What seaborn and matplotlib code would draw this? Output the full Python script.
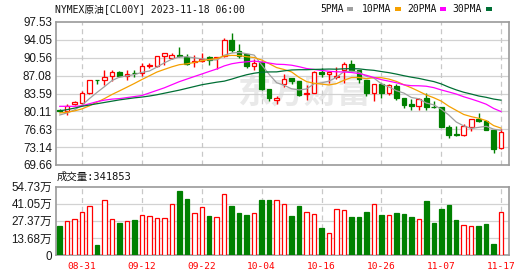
import numpy as np
import matplotlib
matplotlib.use('Agg')
import matplotlib.pyplot as plt
import seaborn as sns
from matplotlib.patches import Rectangle

# ---------------- data ----------------
dates = ['08-28', '08-29', '08-30', '08-31', '09-01', '09-04', '09-05', '09-06', '09-07', '09-08',
         '09-11', '09-12', '09-13', '09-14', '09-15', '09-18', '09-19', '09-20', '09-21', '09-22',
         '09-25', '09-26', '09-27', '09-28', '09-29', '10-02', '10-03', '10-04', '10-05', '10-06',
         '10-09', '10-10', '10-11', '10-12', '10-13', '10-16', '10-17', '10-18', '10-19', '10-20',
         '10-23', '10-24', '10-25', '10-26', '10-27', '10-30', '10-31', '11-01', '11-02', '11-03',
         '11-06', '11-07', '11-08', '11-09', '11-10', '11-13', '11-14', '11-15', '11-16', '11-17']

opens = [80.3, 80.12, 81.6, 81.75, 83.75, 86.2, 86.3, 86.95, 87.7, 87.0,
         87.6, 87.6, 89.0, 89.0, 91.0, 90.6, 91.1, 90.8, 89.7, 89.9,
         90.8, 90.5, 90.85, 94.0, 91.9, 91.2, 88.9, 89.7, 84.4, 82.4,
         85.45, 86.6, 86.1, 83.5, 83.75, 87.8, 87.3, 86.8, 88.1, 89.3,
         88.2, 86.2, 83.75, 85.4, 83.7, 85.0, 82.7, 81.55, 81.1, 82.7,
         81.05, 80.9, 77.0, 75.65, 75.6, 77.1, 78.6, 78.15, 76.5, 73.0]
highs = [80.5, 81.6, 82.1, 84.0, 86.2, 86.2, 88.2, 88.2, 87.9, 88.1,
         88.2, 89.5, 89.5, 90.9, 91.4, 91.4, 92.6, 91.2, 91.1, 91.5,
         90.9, 90.8, 94.4, 95.3, 93.2, 91.2, 90.3, 89.9, 84.4, 83.2,
         87.3, 86.7, 86.1, 85.2, 87.9, 88.5, 87.8, 88.8, 89.7, 90.2,
         88.2, 86.2, 85.5, 85.6, 85.4, 85.5, 82.7, 82.5, 82.7, 83.7,
         82.2, 80.9, 77.45, 77.2, 77.6, 78.55, 79.8, 78.5, 76.5, 76.6]
lows = [80.0, 79.5, 81.3, 81.55, 83.55, 85.5, 85.2, 86.1, 86.9, 86.3,
        86.9, 87.1, 88.5, 88.75, 89.1, 90.25, 90.8, 89.2, 88.7, 89.8,
        89.2, 88.4, 90.7, 91.7, 90.5, 88.6, 88.1, 84.3, 82.2, 81.6,
        84.9, 85.45, 83.2, 82.4, 83.6, 86.8, 85.6, 86.4, 85.7, 88.0,
        85.6, 83.2, 82.2, 82.8, 83.3, 82.3, 80.8, 80.4, 80.3, 80.3,
        80.8, 77.1, 75.0, 75.25, 75.4, 76.35, 77.95, 76.4, 72.05, 72.8]
closes = [80.2, 81.15, 81.9, 83.65, 86.15, 86.15, 86.8, 87.8, 87.07, 87.3,
          87.5, 88.9, 89.1, 90.9, 91.4, 91.1, 91.0, 89.4, 89.85, 90.4,
          90.2, 90.8, 94.0, 92.0, 91.0, 88.9, 89.5, 84.5, 82.8, 82.8,
          86.35, 86.1, 83.4, 83.75, 87.8, 87.3, 87.8, 87.1, 89.3, 88.2,
          86.4, 83.7, 85.4, 83.7, 85.2, 82.7, 81.4, 81.1, 82.45, 81.0,
          81.0, 77.1, 75.5, 75.6, 77.2, 78.55, 78.15, 76.5, 72.8, 76.0]

# volume in 万 (10k contracts)
volumes = [23.2, 27.2, 28.6, 34.5, 39.0, 8.0, 43.8, 28.6, 25.6, 27.2,
           28.0, 31.8, 31.0, 29.4, 29.4, 40.9, 51.3, 44.9, 33.7, 38.2,
           31.25, 30.2, 48.9, 39.3, 33.7, 32.05, 33.7, 44.1, 44.1, 44.1,
           40.9, 31.25, 39.3, 34.5, 32.9, 21.6, 17.6, 36.9, 36.1, 30.45,
           30.45, 34.5, 40.9, 32.05, 31.8, 33.7, 32.9, 30.45, 28.85, 43.3,
           25.6, 36.9, 40.1, 28.0, 24.0, 23.2, 23.2, 24.8, 8.8, 34.1853]

ma5 = [79.4, 79.8, 80.4, 81.3, 82.61, 83.8, 84.93, 86.11, 86.79, 87.02,
       87.29, 87.71, 87.97, 88.74, 89.56, 90.28, 90.7, 90.76, 90.55, 90.35,
       90.17, 90.13, 91.05, 91.48, 91.6, 91.34, 91.08, 89.18, 87.34, 85.7,
       85.19, 84.51, 84.29, 84.48, 85.48, 85.67, 86.01, 86.75, 87.86, 87.94,
       87.76, 86.94, 86.6, 85.48, 84.88, 84.14, 83.68, 82.82, 82.57, 81.73,
       81.39, 80.53, 79.41, 78.04, 77.28, 76.79, 77.0, 77.2, 76.64, 76.4]
ma10 = [79.8, 79.95, 80.2, 80.6, 81.2, 81.9, 82.6, 83.4, 84.1, 84.82,
        85.55, 86.32, 87.04, 87.77, 88.29, 88.79, 89.21, 89.37, 89.65, 89.96,
        90.23, 90.42, 90.91, 91.02, 90.98, 90.76, 90.61, 90.12, 89.41, 88.65,
        88.27, 87.8, 86.74, 85.91, 85.59, 85.43, 85.26, 85.52, 86.17, 86.71,
        86.72, 86.48, 86.68, 86.67, 86.41, 85.95, 85.31, 84.71, 84.03, 83.31,
        82.77, 82.11, 81.12, 80.31, 79.51, 79.09, 78.77, 78.31, 77.34, 76.84]
ma20 = [81.1, 81.1, 81.1, 81.2, 81.6, 82.0, 82.3, 82.5, 82.6, 82.8,
        83.0, 83.2, 83.7, 84.2, 84.7, 85.3, 85.9, 86.4, 86.9, 87.39,
        87.89, 88.37, 88.97, 89.39, 89.63, 89.77, 89.91, 89.74, 89.53, 89.30,
        89.25, 89.11, 88.82, 88.46, 88.28, 88.09, 87.93, 87.82, 87.79, 87.68,
        87.49, 87.14, 86.71, 86.29, 86.0, 85.69, 85.29, 85.12, 85.10, 85.01,
        84.74, 84.29, 83.90, 83.49, 82.96, 82.52, 82.04, 81.51, 80.68, 80.07]
ma30 = [80.2, 80.45, 80.75, 81.1, 81.35, 81.6, 81.85, 82.1, 82.35, 82.55,
        82.75, 82.9, 83.1, 83.35, 83.65, 83.95, 84.25, 84.6, 84.95, 85.3,
        85.55, 85.8, 86.0, 86.4, 86.85, 87.25, 87.55, 87.75, 87.8, 87.81,
        88.01, 88.18, 88.23, 88.23, 88.29, 88.32, 88.36, 88.33, 88.41, 88.44,
        88.40, 88.23, 88.11, 87.87, 87.66, 87.38, 87.06, 86.78, 86.54, 86.22,
        85.92, 85.46, 84.84, 84.30, 83.84, 83.49, 83.11, 82.85, 82.51, 82.29]

price_ticks = [69.66, 73.14, 76.63, 80.11, 83.59, 87.08, 90.56, 94.05, 97.53]
vol_ticks = [0, 13.68, 27.37, 41.05, 54.73]
vol_tick_labels = ['0', '13.68万', '27.37万', '41.05万', '54.73万']
date_labels = ['08-31', '09-12', '09-22', '10-04', '10-16', '10-26', '11-07', '11-17']
title_text = 'NYMEX原油[CL00Y] 2023-11-18 06:00'
ma_names = ['5PMA', '10PMA', '20PMA', '30PMA']
watermark = '东方财富'

# ---------------- styling ----------------
sns.set_theme(style='white')
plt.rcParams['font.family'] = ['Liberation Sans', 'Noto Sans CJK SC', 'DejaVu Sans']
MONO = ['DejaVu Sans Mono', 'Noto Sans CJK SC']
RED = '#ff0000'
GREEN = '#008000'
MA_COLORS = ['#a0a0a0', '#f5a000', '#ff00ff', '#006f35']
SPINE = '#9a9a9a'
GRID = '#d2d2d2'
LABEL = '#1a1a1a'

W, H = 530, 276
fig = plt.figure(figsize=(W / 100, H / 100), dpi=100)
fig.patch.set_facecolor('white')


def fx(px):
    return px / W


def fy(py):
    return 1 - py / H


L, R = 55.5, 509
ax = fig.add_axes([fx(L), fy(165), fx(R) - fx(L), fy(22) - fy(165)])
axv = fig.add_axes([fx(L), fy(255), fx(R) - fx(L), fy(186.7) - fy(255)])

idx = np.arange(len(dates))
o = np.array(opens)
c = np.array(closes)
h = np.array(highs)
lo = np.array(lows)
up = c > o
cols = np.where(up, RED, GREEN)
faces = np.where(up, 'white', GREEN)
date_pos = [dates.index(d) for d in date_labels]
XLIM = (-0.54, 60.05)

# ---- main price chart ----
for t in price_ticks[1:-1]:
    ax.axhline(t, color=GRID, lw=0.9, zorder=1)
for p in date_pos:
    ax.axvline(p, color='#c8c8c8', lw=0.9, ls=(0, (4, 3)), zorder=1)

ax.text(fx(304), fy(94), watermark, transform=fig.transFigure, ha='center', va='center',
        fontsize=24, fontweight='bold', color='#e9e9e9', family=['Noto Sans CJK SC'],
        fontstyle='italic', zorder=0.5)

ax.vlines(idx, lo, h, colors=cols, lw=1.0, zorder=3)
body_bottom = np.minimum(o, c)
body_h = np.maximum(np.abs(c - o), 0.06)
ax.bar(idx, body_h, bottom=body_bottom, width=0.62, color=faces, edgecolor=cols,
       linewidth=0.9, zorder=4)

for vals, col in zip([ma5, ma10, ma20, ma30], MA_COLORS):
    sns.lineplot(x=idx, y=vals, ax=ax, color=col, linewidth=0.9, zorder=5, legend=False)

ax.set_xlim(*XLIM)
ax.set_ylim(price_ticks[0], price_ticks[-1])
ax.set_xticks([])
ax.set_yticks(price_ticks)
ax.set_yticklabels([f'{v:.2f}' for v in price_ticks])
ax.tick_params(axis='y', length=0, pad=2.5, labelsize=8.4, labelcolor=LABEL)
ax.set_xlabel('')
ax.set_ylabel('')

# ---- volume chart ----
for t in vol_ticks[1:-1]:
    axv.axhline(t, color=GRID, lw=0.9, zorder=1)
for p in date_pos:
    axv.axvline(p, color='#c8c8c8', lw=0.9, ls=(0, (4, 3)), zorder=1)
axv.bar(idx, volumes, width=0.6, color=faces, edgecolor=cols, linewidth=0.9, zorder=3)
axv.set_xlim(*XLIM)
axv.set_ylim(vol_ticks[0], vol_ticks[-1])
axv.set_yticks(vol_ticks)
axv.set_yticklabels(vol_tick_labels, fontfamily=['Liberation Sans', 'Noto Sans CJK SC'])
axv.tick_params(axis='y', length=0, pad=2.5, labelsize=8.4, labelcolor=LABEL)
axv.set_xticks(date_pos)
axv.set_xticklabels(date_labels, fontfamily=MONO)
axv.tick_params(axis='x', length=0, pad=5, labelsize=6.8, labelcolor=RED)
axv.set_xlabel('')
axv.set_ylabel('')

for a in (ax, axv):
    a.set_facecolor('white')
    for s in a.spines.values():
        s.set_visible(True)
        s.set_color(SPINE)
        s.set_linewidth(1.2)

# ---- texts ----
fig.text(fx(55), fy(9), title_text, ha='left', va='center', fontsize=7, family=MONO, color='#111111')
leg_x = [320, 362, 407, 452]
sq_x = [347, 395, 440, 486]
for name, col, tx, sx in zip(ma_names, MA_COLORS, leg_x, sq_x):
    fig.text(fx(tx), fy(9), name, ha='left', va='center', fontsize=7, family=MONO, color='#111111')
    fig.patches.append(Rectangle((fx(sx), fy(10.5)), 6 / W, 3 / H, transform=fig.transFigure,
                                 facecolor=col, edgecolor='none'))

last_vol = int(round(volumes[-1] * 10000))
fig.text(fx(57), fy(177), f'成交量:{last_vol}', ha='left', va='center', fontsize=7.5,
         family=MONO, color='#111111')

fig.savefig('out.png', dpi=100, facecolor='white')
